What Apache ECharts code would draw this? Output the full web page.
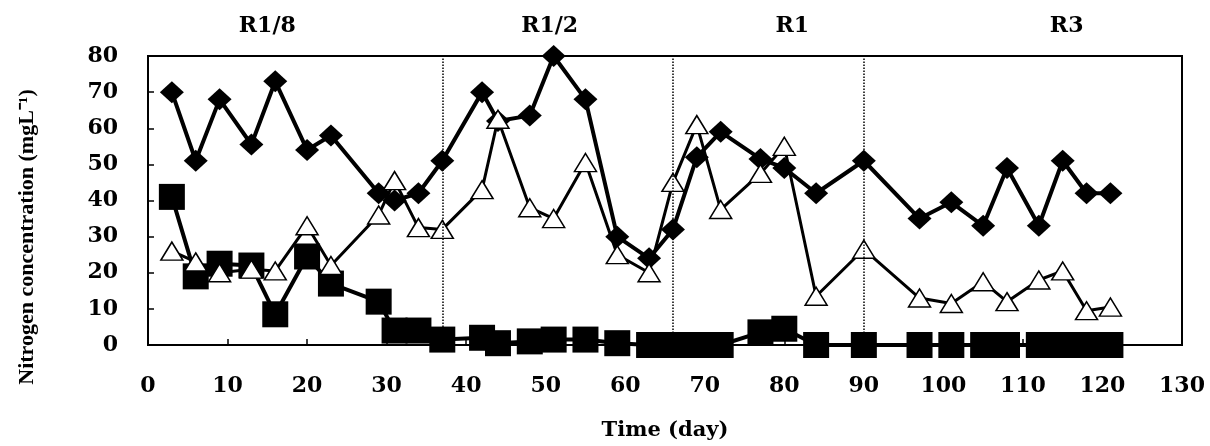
<!DOCTYPE html>
<html>
<head>
<meta charset="utf-8">
<script src="https://cdn.jsdelivr.net/npm/echarts@6/dist/echarts.min.js"></script>
<style>
  html, body { margin: 0; padding: 0; background: #fff; }
  #chart { width: 1210px; height: 446px; }
</style>
</head>
<body>
<div id="chart"></div>
<script>
// sampling days
var days = [3, 6, 9, 13, 16, 20, 23, 29, 31, 34, 37, 42, 44, 48, 51, 55, 59, 63, 66, 69, 72, 77, 80, 84, 90, 97, 101, 105, 108, 112, 115, 118, 121]
// filled diamonds
var diamondVals = [70, 51, 68, 55.5, 73, 54, 58, 42, 40, 42, 51, 70, 62, 63.5, 80, 68, 30, 24, 32, 52, 59, 51.5, 49, 42, 51, 35, 39.5, 33, 49, 33, 51, 42, 42]
// open triangles
var triangleVals = [26, 23, 20, 21, 20.5, 33, 22, 36, 45.5, 32.5, 32, 43, 62.5, 38, 35, 50.5, 25, 20, 45, 61, 37.5, 47.5, 55, 13.5, 26.5, 13, 11.5, 17.5, 12, 18, 20.5, 9.5, 10.5]
// filled squares
var squareVals = [41, 19, 22.5, 22, 8.5, 24.5, 17, 12, 4, 4, 1.5, 2, 0.5, 1, 1.5, 1.5, 0.5, 0, 0, 0, 0, 3.5, 4.5, 0, 0, 0, 0, 0, 0, 0, 0, 0, 0]
// phase boundaries and labels
var phaseBounds = [37, 66, 90]
var phaseNames = ['R1/8', 'R1/2', 'R1', 'R3']
var phaseCenters = [15, 50.5, 81, 115.5]

var xTicks = { min: 0, max: 130, interval: 10 }
var yTicks = { min: 0, max: 80, interval: 10 }

function pairs(vals) {
  return days.map(function(d, i) { return [d, vals[i]] })
}

var font = 'DejaVu Serif'
var chart = echarts.init(document.getElementById('chart'))

chart.setOption({
  animation: false,
  backgroundColor: '#fff',
  grid: {
    show: true,
    left: 148,
    right: 28,
    top: 56,
    bottom: 100,
    borderColor: '#000',
    borderWidth: 2
  },
  xAxis: {
    type: 'value',
    min: xTicks.min,
    max: xTicks.max,
    interval: xTicks.interval,
    name: 'Time (day)',
    nameLocation: 'middle',
    nameGap: 75,
    nameTextStyle: { fontFamily: font, fontWeight: 'bold', fontSize: 21, color: '#000' },
    axisLine: { lineStyle: { color: '#000', width: 2 } },
    axisTick: { inside: true, length: 6, lineStyle: { color: '#000', width: 1.5 } },
    axisLabel: { margin: 30, fontFamily: font, fontWeight: 'bold', fontSize: 22, color: '#000' },
    splitLine: { show: false }
  },
  yAxis: {
    type: 'value',
    min: yTicks.min,
    max: yTicks.max,
    interval: yTicks.interval,
    axisLine: { lineStyle: { color: '#000', width: 2 } },
    axisTick: { inside: true, length: 6, lineStyle: { color: '#000', width: 1.5 } },
    axisLabel: { margin: 30, fontFamily: font, fontWeight: 'bold', fontSize: 22, color: '#000' },
    splitLine: { show: false }
  },
  series: [
    {
      name: 'squares',
      type: 'line',
      data: pairs(squareVals),
      symbol: 'rect',
      symbolSize: 26,
      lineStyle: { color: '#000', width: 4 },
      itemStyle: { color: '#000' },
      markLine: {
        silent: true,
        symbol: ['none', 'none'],
        label: { show: false },
        lineStyle: { color: '#000', width: 1.5, type: 'dotted' },
        data: phaseBounds.map(function(b) { return { xAxis: b } })
      }
    },
    {
      name: 'diamonds',
      type: 'line',
      data: pairs(diamondVals),
      symbol: 'diamond',
      symbolSize: [24, 22],
      lineStyle: { color: '#000', width: 4 },
      itemStyle: { color: '#000' }
    },
    {
      name: 'triangles',
      type: 'line',
      data: pairs(triangleVals),
      symbol: 'triangle',
      symbolSize: [22, 18],
      lineStyle: { color: '#000', width: 3 },
      itemStyle: { color: '#fff', borderColor: '#000', borderWidth: 1.5 }
    }
  ]
})

// phase labels above the plot, y axis title
var labels = phaseNames.map(function(name, i) {
  var px = chart.convertToPixel({ xAxisIndex: 0 }, phaseCenters[i])
  return {
    type: 'text',
    x: px,
    y: 26,
    style: {
      text: name,
      fontFamily: font,
      fontWeight: 'bold',
      fontSize: 22,
      fill: '#000',
      align: 'center',
      verticalAlign: 'middle'
    }
  }
})
labels.push({
  type: 'text',
  x: 27,
  y: 237,
  rotation: Math.PI / 2,
  style: {
    text: 'Nitrogen concentration (mgL⁻¹)',
    fontFamily: 'Liberation Serif',
    fontWeight: 'bold',
    fontSize: 22,
    fill: '#000',
    align: 'center',
    verticalAlign: 'middle'
  }
})
chart.setOption({ graphic: labels })
</script>
</body>
</html>
